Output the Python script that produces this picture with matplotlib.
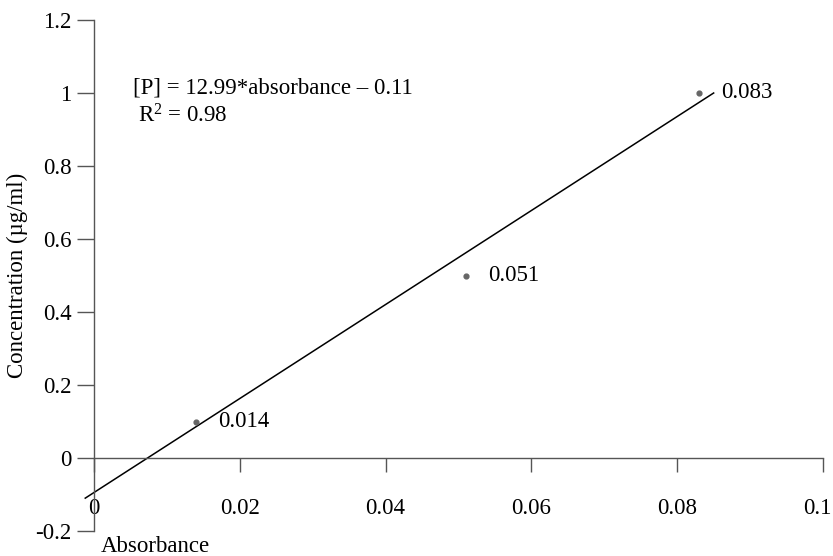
import matplotlib
matplotlib.use("Agg")
import matplotlib.pyplot as plt
import matplotlib.transforms as mtransforms

plt.rcParams['font.family'] = ['Liberation Serif', 'DejaVu Serif']
plt.rcParams['mathtext.fontset'] = 'custom'
plt.rcParams['mathtext.rm'] = 'Liberation Serif'
plt.rcParams['mathtext.it'] = 'Liberation Serif:italic'

# Data
absorbance = [0.014, 0.051, 0.083]
concentration = [0.1, 0.5, 1.0]
point_labels = ["0.014", "0.051", "0.083"]
fit_x = [-0.0012, 0.085]
fit_y = [-0.11, 1.0]
x_ticks = [0, 0.02, 0.04, 0.06, 0.08, 0.1]
x_ticklabels = ["0", "0.02", "0.04", "0.06", "0.08", "0.1"]
y_ticks = [-0.2, 0, 0.2, 0.4, 0.6, 0.8, 1.0, 1.2]
y_ticklabels = ["-0.2", "0", "0.2", "0.4", "0.6", "0.8", "1", "1.2"]

FS = 16.5
W, H = 833, 556
fig = plt.figure(figsize=(W / 100, H / 100), dpi=100)
ax = fig.add_axes([94 / W, (H - 531) / H, (823 - 94) / W, (531 - 20) / H])

axis_col = '#555555'
ax.plot(fit_x, fit_y, color='black', lw=1.1, clip_on=False, zorder=2)
ax.scatter(absorbance, concentration, s=12, color='#666666', zorder=3, clip_on=False)
for xv, yv, lab in zip(absorbance, concentration, point_labels):
    ax.annotate(lab, (xv, yv), xytext=(16, 0), textcoords='offset points',
                ha='left', va='center', fontsize=FS)

ax.set_xlim(0, 0.1)
ax.set_ylim(-0.2, 1.2)

for s in ['top', 'right']:
    ax.spines[s].set_visible(False)
ax.spines['bottom'].set_position(('data', 0))
for s in ['left', 'bottom']:
    ax.spines[s].set_color(axis_col)
    ax.spines[s].set_linewidth(1.0)

ax.set_xticks(x_ticks)
ax.set_xticklabels(x_ticklabels)
ax.set_yticks(y_ticks)
ax.set_yticklabels(y_ticklabels)
ax.tick_params(axis='x', direction='out', length=10, width=1.0, color=axis_col,
               pad=19, labelsize=FS)
ax.tick_params(axis='y', direction='out', length=12, width=1.0, color=axis_col,
               pad=4, labelsize=FS)
ax.patch.set_visible(False)

last = ax.get_xticklabels()[-1]
last.set_transform(last.get_transform() +
                   mtransforms.ScaledTranslation(-6 / 100, 0, fig.dpi_scale_trans))

ax.text(133 / W, 1 - 88 / H, "[P] = 12.99*absorbance \u2013 0.11", transform=fig.transFigure,
        ha='left', va='center', fontsize=FS)
ax.text(138 / W, 1 - 116 / H, r"R$^{2}$ = 0.98", transform=fig.transFigure,
        ha='left', va='center', fontsize=FS)

fig.text(101 / W, 1 - 547 / H, "Absorbance", ha='left', va='center', fontsize=FS)
fig.text(17 / W, 1 - 275 / H, "Concentration (\u00b5g/ml)", ha='center', va='center',
         rotation=90, fontsize=FS)

fig.savefig("out.png", dpi=100)
